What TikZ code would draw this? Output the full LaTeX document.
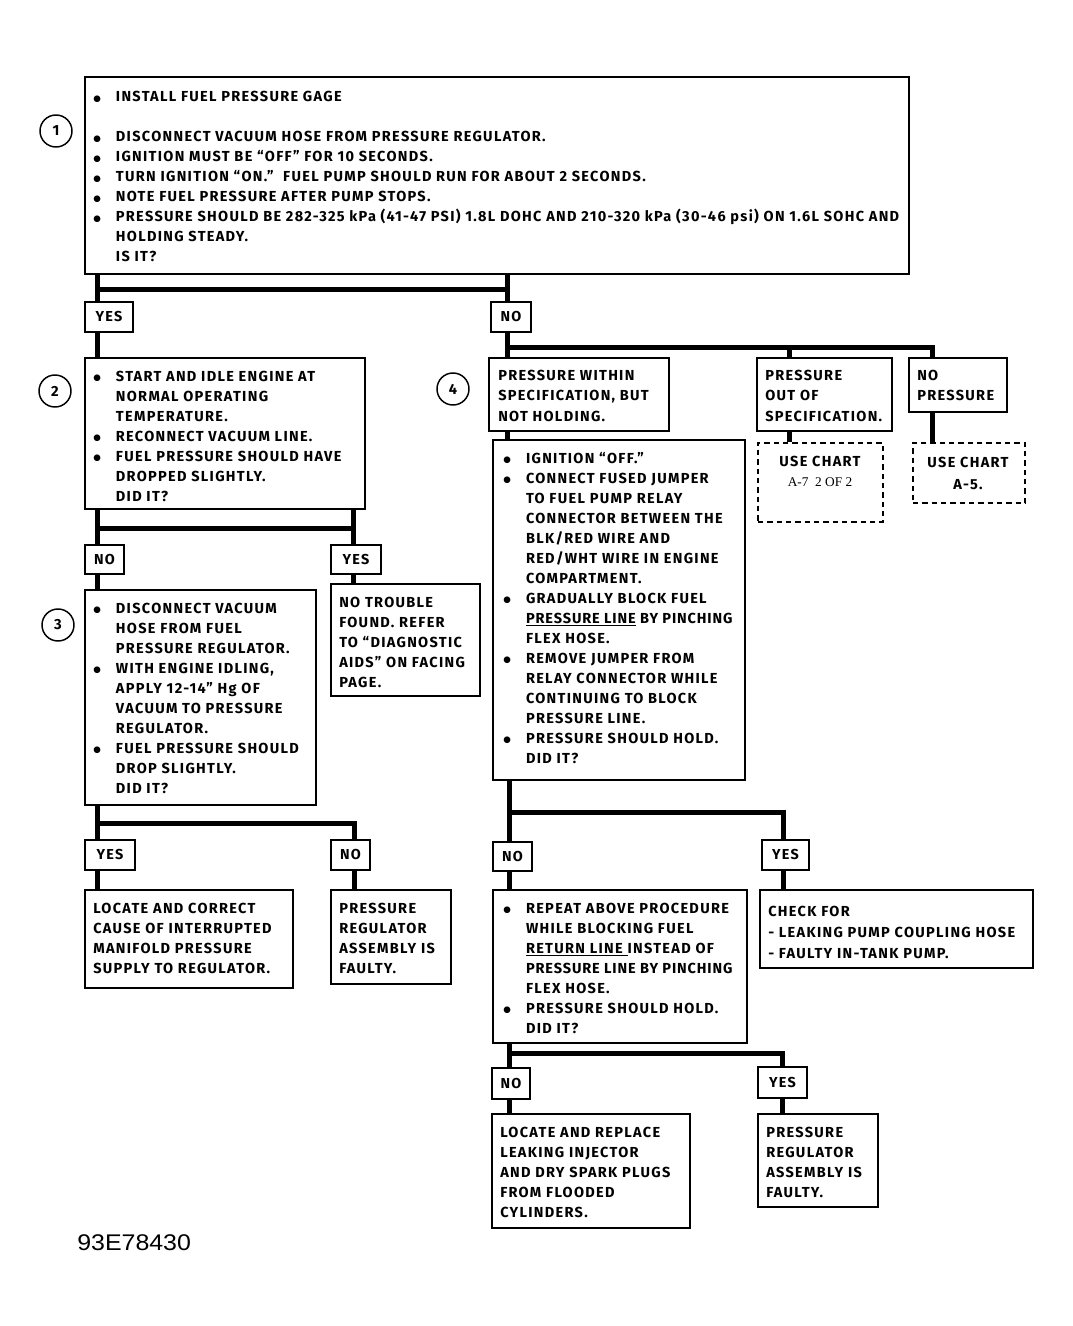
\documentclass[tikz,border=0pt]{standalone}
\usepackage{fontspec}
\setmainfont[LetterSpace=9]{Fira Sans}
\newfontfamily\serif{Liberation Serif}
\newfontfamily\arial{Liberation Sans}
\newfontfamily\djv{DejaVu Sans}
\usetikzlibrary{fit}
\newcommand\bu[1][17pt]{\makebox[#1][l]{\raisebox{0.6pt}{\djv\fontsize{6.5}{7}\selectfont ●}}}
\newcommand\ii[1][17pt]{\hspace*{#1}}
\newcommand\st{\rule{0pt}{10pt}}
\newcommand\tight[1]{{\addfontfeature{LetterSpace=6}#1}}
\begin{document}
\begin{tikzpicture}[x=0.75pt,y=-0.75pt,
  box/.style={draw, line width=1.6pt, inner sep=0pt},
  dbox/.style={draw, line width=1pt, dash pattern=on 4pt off 3pt, inner sep=0pt},
  lab/.style={draw, line width=1.2pt, inner sep=0pt, font=\bfseries\fontsize{10.8}{15}\selectfont},
  txt/.style={anchor=north west, inner sep=0pt, align=left, font=\bfseries\fontsize{10.9}{15}\selectfont},
  ctxt/.style={anchor=north, inner sep=0pt, align=center, font=\bfseries\fontsize{10.9}{15}\selectfont},
  num/.style={draw, circle, line width=1.1pt, minimum size=24pt, inner sep=0pt, font=\bfseries\fontsize{11}{12}\selectfont},
  conn/.style={line width=3.75pt}]
\useasboundingbox (0,0) rectangle (1072,1326);

% ---------- boxes ----------
\node[box, line width=2pt, fit={(85,77) (909,274)}] (b1) {};
\node[box, fit={(85,358) (365,509)}] (b2) {};
\node[box, fit={(85,590) (316,805)}] (b3) {};
\node[box, fit={(331,584) (480,696)}] (nt) {};
\node[box, fit={(85,890) (293,988)}] (lc) {};
\node[box, fit={(331,890) (451,984)}] (pr1) {};
\node[box, fit={(489,358) (669,431)}] (b4a) {};
\node[box, fit={(757,358) (892,431)}] (oos) {};
\node[box, fit={(909,358) (1007,412)}] (nop) {};
\node[dbox, fit={(758,443) (883,522)}] (uc7) {};
\node[dbox, fit={(913,443) (1025,503)}] (uc5) {};
\node[box, fit={(493,440) (745,780)}] (b4) {};
\node[box, fit={(493,890) (747,1043)}] (rep) {};
\node[box, fit={(760,890) (1033,968)}] (chk) {};
\node[box, fit={(492,1114) (690,1228)}] (lr) {};
\node[box, fit={(758,1114) (878,1207)}] (pr2) {};

% ---------- yes / no labels ----------
\node[lab, minimum width=36pt, minimum height=22.5pt] (yes1) at (109,317) {YES};
\node[lab, minimum width=30pt, minimum height=22.5pt] (no1) at (511,317) {NO};
\node[lab, minimum width=29.25pt, minimum height=21.75pt] (no2) at (104.5,559.5) {NO};
\node[lab, minimum width=37.5pt, minimum height=21.75pt] (yes2) at (356,559.5) {YES};
\node[lab, minimum width=37.5pt, minimum height=22.5pt] (yes3) at (110,855) {YES};
\node[lab, minimum width=29.25pt, minimum height=22.5pt] (no3) at (350.5,855) {NO};
\node[lab, minimum width=29.25pt, minimum height=21.75pt] (no4) at (512.5,856.5) {NO};
\node[lab, minimum width=35.25pt, minimum height=22.5pt] (yes4) at (785.5,855) {YES};
\node[lab, minimum width=28.5pt, minimum height=23.25pt] (no5) at (511,1083.5) {NO};
\node[lab, minimum width=36.75pt, minimum height=23.25pt] (yes5) at (782.5,1082.5) {YES};

% ---------- step numbers ----------
\node[num] (n1) at (56,131) {1};
\node[num] (n2) at (55,391) {2};
\node[num] (n3) at (58,625) {3};
\node[num] (n4) at (453,389) {4};

% ---------- texts ----------
\node[txt] (b1t) at (93,88.4) {\st\bu INSTALL FUEL PRESSURE GAGE\\ \mbox{}\\
\bu DISCONNECT VACUUM HOSE FROM PRESSURE REGULATOR.\\
\bu IGNITION MUST BE “OFF” FOR 10 SECONDS.\\
\bu TURN IGNITION “ON.”\ \ FUEL PUMP SHOULD RUN FOR ABOUT 2 SECONDS.\\
\bu NOTE FUEL PRESSURE AFTER PUMP STOPS.\\
\bu PRESSURE SHOULD BE 282-325 kPa\ (41-47 PSI) 1.8L DOHC AND 210-320 kPa (30-46 psi) ON 1.6L SOHC\ AND\\
\ii HOLDING STEADY.\\
\ii IS IT?};

\node[txt] (b2t) at (93,367.4) {\st\bu START AND IDLE ENGINE AT\\
\ii NORMAL OPERATING\\
\ii TEMPERATURE.\\
\bu RECONNECT\ VACUUM LINE.\\
\bu FUEL PRESSURE SHOULD HAVE\\
\ii DROPPED SLIGHTLY.\\
\ii DID IT?};

\node[txt] (b3t) at (93,599.4) {\st\bu DISCONNECT VACUUM\\
\ii HOSE FROM FUEL\\
\ii PRESSURE REGULATOR.\\
\bu WITH ENGINE IDLING,\\
\ii APPLY 12-14” Hg OF\\
\ii VACUUM TO PRESSURE\\
\ii REGULATOR.\\
\bu FUEL PRESSURE SHOULD\\
\ii DROP SLIGHTLY.\\
\ii DID IT?};

\node[txt] (ntt) at (339,593.4) {\st NO TROUBLE\\ FOUND.\ REFER\\ TO “DIAGNOSTIC\\ AIDS” ON FACING\\ PAGE.};
\node[txt] (lct) at (93,899.4) {\st LOCATE AND CORRECT\\ CAUSE OF\ INTERRUPTED\\ MANIFOLD PRESSURE\\ SUPPLY TO REGULATOR.};
\node[txt] (pr1t) at (339,899.4) {\st PRESSURE\\ REGULATOR\\ ASSEMBLY IS\\ FAULTY.};

\node[txt] (b4at) at (498,367.4) {\st PRESSURE WITHIN\\ SPECIFICATION,\ BUT\\ NOT HOLDING.};
\node[txt] (oost) at (765,367.4) {\st PRESSURE\\ OUT OF\\ SPECIFICATION.};
\node[txt] (nopt) at (917,367.4) {\st NO\\ PRESSURE};
\node[ctxt] (uc7t) at (820,452.4) {\st USE CHART\\ {\serif\mdseries\fontsize{10}{15}\selectfont A-7\ \ 2 OF 2}};
\node[ctxt] (uc5t) at (968,453.4) {\st USE CHART\\[1.5pt] A-5.};

\node[txt] (b4t) at (503,449.4) {\st\bu[13.5pt] IGNITION “OFF.”\\
\bu[13.5pt] CONNECT FUSED JUMPER\\
\ii[13.5pt] TO FUEL PUMP RELAY\\
\ii[13.5pt] CONNECTOR BETWEEN THE\\
\ii[13.5pt] BLK/RED WIRE AND\\
\ii[13.5pt] RED/WHT WIRE IN ENGINE\\
\ii[13.5pt] COMPARTMENT.\\
\bu[13.5pt] GRADUALLY BLOCK FUEL\\
\ii[13.5pt] \tight{\underline{PRESSURE LINE} BY PINCHING}\\
\ii[13.5pt] FLEX HOSE.\\
\bu[13.5pt] REMOVE JUMPER FROM\\
\ii[13.5pt] RELAY CONNECTOR WHILE\\
\ii[13.5pt] CONTINUING TO BLOCK\\
\ii[13.5pt] PRESSURE LINE.\\
\bu[13.5pt] PRESSURE SHOULD HOLD.\\
\ii[13.5pt] DID IT?};

\node[txt] (rept) at (503,899.4) {\st\bu[13.5pt] REPEAT ABOVE PROCEDURE\\
\ii[13.5pt] WHILE BLOCKING\ FUEL\\
\ii[13.5pt] \underline{RETURN LINE\ }INSTEAD OF\\
\ii[13.5pt] \tight{PRESSURE LINE BY PINCHING}\\
\ii[13.5pt] FLEX HOSE.\\
\bu[13.5pt] PRESSURE SHOULD HOLD.\\
\ii[13.5pt] DID IT?};

\node[txt, font=\bfseries\fontsize{10.9}{16}\selectfont] (chkt) at (768,902.4) {\st CHECK FOR\\ - LEAKING PUMP COUPLING HOSE\\ - FAULTY IN-TANK PUMP.};
\node[txt] (lrt) at (500,1123.4) {\st LOCATE AND REPLACE\\ LEAKING INJECTOR\\ AND DRY SPARK PLUGS\\ FROM FLOODED\\ CYLINDERS.};
\node[txt] (pr2t) at (766,1123.4) {\st PRESSURE\\ REGULATOR\\ ASSEMBLY IS\\ FAULTY.};

\node[anchor=west, inner sep=0pt, font=\arial\fontsize{17}{20}\selectfont, xscale=1.1] (fig) at (77,1243) {93E78430};

% ---------- connector columns ----------
\coordinate (xa) at (97,0);
\coordinate (xb) at (507,0);
\coordinate (xc) at (353,0);
\coordinate (xd) at (789,0);
\coordinate (xe) at (932,0);
\coordinate (xf) at (509,0);
\coordinate (xg) at (783,0);
\coordinate (xh) at (782,0);
\coordinate (xi) at (354,0);
\coordinate (h1) at (97,290);
\coordinate (h2) at (507,348);
\coordinate (h3) at (97,528);
\coordinate (h4) at (97,823);
\coordinate (h5) at (509,812);
\coordinate (h6) at (509,1053);

% ---------- connectors ----------
\draw[conn] (b1.south -| xa) -- (yes1.north -| xa);
\draw[conn] (b1.south -| xb) -- (no1.north -| xb);
\draw[conn] (h1) -- (h1 -| xb);
\draw[conn] (yes1.south -| xa) -- (b2.north -| xa);

\draw[conn] (no1.south -| xb) -- (b4a.north -| xb);
\draw[conn] (h2) -| (oos.north -| xd);
\draw[conn] (h2 -| xd) -| (nop.north -| xe);
\draw[conn] (oos.south -| xd) -- (uc7.north -| xd);
\draw[conn] (nop.south -| xe) -- (uc5.north -| xe);
\draw[conn] (b4a.south -| xb) -- (b4.north -| xb);

\draw[conn] (b2.south -| xa) -- (no2.north -| xa);
\draw[conn] (b2.south -| xc) -- (yes2.north -| xc);
\draw[conn] (h3) -- (h3 -| xc);
\draw[conn] (no2.south -| xa) -- (b3.north -| xa);
\draw[conn] (yes2.south -| xc) -- (nt.north -| xc);

\draw[conn] (b3.south -| xa) -- (yes3.north -| xa);
\draw[conn] (h4) -| (no3.north -| xi);
\draw[conn] (yes3.south -| xa) -- (lc.north -| xa);
\draw[conn] (no3.south -| xi) -- (pr1.north -| xi);

\draw[conn] (b4.south -| xf) -- (no4.north -| xf);
\draw[conn] (h5) -| (yes4.north -| xg);
\draw[conn] (no4.south -| xf) -- (rep.north -| xf);
\draw[conn] (yes4.south -| xg) -- (chk.north -| xg);

\draw[conn] (rep.south -| xf) -- (no5.north -| xf);
\draw[conn] (h6) -| (yes5.north -| xh);
\draw[conn] (no5.south -| xf) -- (lr.north -| xf);
\draw[conn] (yes5.south -| xh) -- (pr2.north -| xh);
\end{tikzpicture}
\end{document}
